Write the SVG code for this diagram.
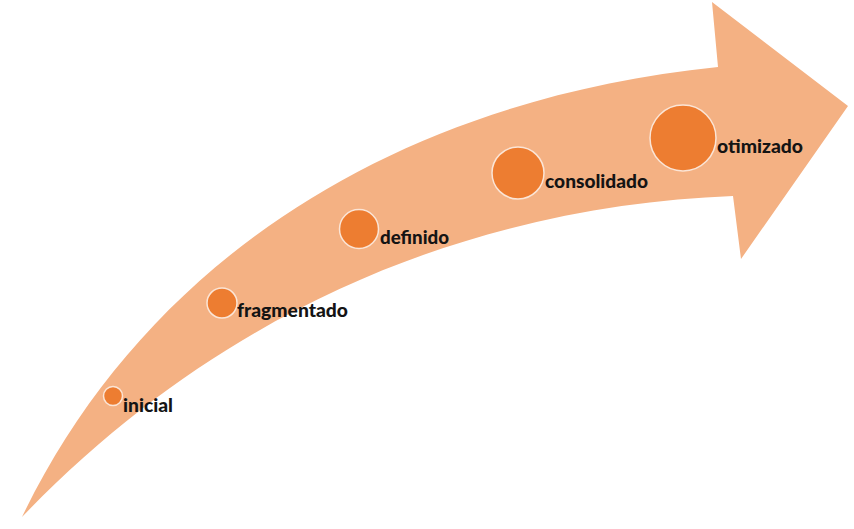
<svg xmlns="http://www.w3.org/2000/svg" width="854" height="529" viewBox="0 0 854 529">
<style>
.dot{fill:#ED7D31;stroke:#FBE5D6;stroke-width:1.5}
.lbl{font-family:Lato,"Liberation Sans",sans-serif;font-weight:900;font-size:18px;fill:#141414}
</style>
<rect width="854" height="529" fill="#ffffff"/>
<g id="connectors">
<path id="arrow" d="M22,517 C140,272 380,102 718,67 L712,2 L848,106 L741,259 L733,196 C500,205 240,290 22,517 Z" fill="#F4B183"/>
</g>
<g id="node-inicial">
<circle class="dot" cx="113" cy="396" r="9.5"/>
<text class="lbl" x="123" y="412" textLength="50" lengthAdjust="spacingAndGlyphs">inicial</text>
</g>
<g id="node-fragmentado">
<circle class="dot" cx="222" cy="303" r="15"/>
<text class="lbl" x="237" y="317" textLength="111" lengthAdjust="spacingAndGlyphs">fragmentado</text>
</g>
<g id="node-definido">
<circle class="dot" cx="359" cy="229" r="19.5"/>
<text class="lbl" x="380" y="244" textLength="69" lengthAdjust="spacingAndGlyphs">definido</text>
</g>
<g id="node-consolidado">
<circle class="dot" cx="518" cy="173" r="26"/>
<text class="lbl" x="545" y="188" textLength="103" lengthAdjust="spacingAndGlyphs">consolidado</text>
</g>
<g id="node-otimizado">
<circle class="dot" cx="683" cy="138" r="33"/>
<text class="lbl" x="717" y="153" textLength="86" lengthAdjust="spacingAndGlyphs">otimizado</text>
</g>
</svg>
